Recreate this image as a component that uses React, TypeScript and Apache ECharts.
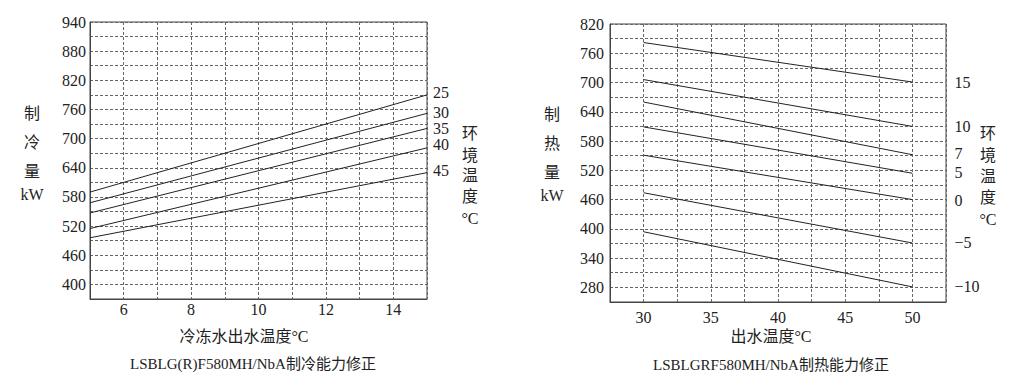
import React, { useEffect, useRef } from "react";
import * as echarts from "echarts";

// Cooling chart (left)
const coolWaterTemp = [5, 15];
const coolAmbientNames = ["25", "30", "35", "40", "45"];
const cool25 = [590, 790];
const cool30 = [568, 752];
const cool35 = [547, 721];
const cool40 = [515, 681];
const cool45 = [496, 630];
const coolLabelDy = [-2, -1, 0, -3, -2];

// Heating chart (right)
const heatWaterTemp = [30, 50];
const heatAmbientNames = ["15", "10", "7", "5", "0", "\u22125", "\u221210"];
const heat15 = [782, 701];
const heat10 = [706, 610];
const heat7 = [660, 552];
const heat5 = [609, 514];
const heat0 = [551, 460];
const heatM5 = [474, 371];
const heatM10 = [394, 281];
const heatLabelDy = [0, 0, -1, -1, 1, 0, 0];

const FONT = '"Liberation Serif", "Noto Sans CJK SC", serif';
const TXT = "#222";

function mkSeries(name: string, xs: number[], ys: number[], idx: number, dist: number, dy: number) {
  return {
    type: "line",
    name,
    xAxisIndex: idx,
    yAxisIndex: idx,
    data: xs.map((x, i) => [x, ys[i]]),
    symbol: "none",
    lineStyle: { color: "#222", width: 1 },
    endLabel: {
      show: true,
      formatter: "{a}",
      distance: dist,
      offset: [0, dy],
      color: TXT,
      fontSize: 16,
      fontFamily: FONT,
    },
    silent: true,
  };
}

function txt(text: string, x: number, y: number, size = 16) {
  return {
    type: "text",
    x,
    y,
    style: { text, fill: TXT, fontSize: size, fontFamily: FONT, align: "center", verticalAlign: "middle" },
  };
}

export default function App() {
  const ref = useRef<HTMLDivElement>(null);
  useEffect(() => {
    if (!ref.current) return;
    const chart = echarts.init(ref.current, undefined, { renderer: "svg" });
    const split = { show: true, lineStyle: { type: [3, 2], color: "#666", width: 1 } };
    const axLine = { show: true, lineStyle: { color: "#444", width: 1 } };
    const coolSets = [cool25, cool30, cool35, cool40, cool45];
    const heatSets = [heat15, heat10, heat7, heat5, heat0, heatM5, heatM10];
    chart.setOption({
      animation: false,
      backgroundColor: "#fff",
      grid: [
        { left: 90, top: 22, width: 337, height: 277, show: true, borderColor: "#444", borderWidth: 1 },
        { left: 610, top: 24, width: 336, height: 278, show: true, borderColor: "#444", borderWidth: 1 },
      ],
      xAxis: [
        {
          type: "value", gridIndex: 0, min: 5, max: 15, interval: 1,
          axisLine: axLine, axisTick: { show: false }, splitLine: split,
          axisLabel: { formatter: (v: number) => (v % 2 === 0 ? String(v) : ""), margin: 2, color: TXT, fontSize: 16, fontFamily: FONT },
        },
        {
          type: "value", gridIndex: 1, min: 27.5, max: 52.5, interval: 2.5,
          axisLine: axLine, axisTick: { show: false }, splitLine: split,
          axisLabel: { formatter: (v: number) => (v % 5 === 0 ? String(v) : ""), margin: 7, color: TXT, fontSize: 16, fontFamily: FONT },
        },
      ],
      yAxis: [
        {
          type: "value", gridIndex: 0, min: 370, max: 940, interval: 30,
          axisLine: axLine, axisTick: { show: false }, splitLine: split,
          axisLabel: { formatter: (v: number) => ((v - 400) % 60 === 0 ? String(v) : ""), margin: 4, color: TXT, fontSize: 16, fontFamily: FONT },
        },
        {
          type: "value", gridIndex: 1, min: 250, max: 820, interval: 30,
          axisLine: axLine, axisTick: { show: false }, splitLine: split,
          axisLabel: { formatter: (v: number) => ((v - 280) % 60 === 0 ? String(v) : ""), margin: 6, color: TXT, fontSize: 16, fontFamily: FONT },
        },
      ],
      series: [
        ...coolAmbientNames.map((n, i) => mkSeries(n, coolWaterTemp, coolSets[i], 0, 6, coolLabelDy[i])),
        ...heatAmbientNames.map((n, i) => mkSeries(n, heatWaterTemp, heatSets[i], 1, 42, heatLabelDy[i])),
      ],
      graphic: [
        txt("制", 32, 113), txt("冷", 32, 142), txt("量", 32, 171), txt("kW", 32, 194),
        txt("环", 470, 133), txt("境", 470, 155), txt("温", 470, 175), txt("度", 470, 196), txt("°C", 470, 218),
        txt("冷冻水出水温度°C", 244, 336),
        txt("LSBLG(R)F580MH/NbA制冷能力修正", 253, 364, 15),
        txt("制", 552, 114), txt("热", 552, 143), txt("量", 552, 172), txt("kW", 552, 195),
        txt("环", 988, 133), txt("境", 988, 155), txt("温", 988, 176), txt("度", 988, 197), txt("°C", 988, 219),
        txt("出水温度°C", 771, 336),
        txt("LSBLGRF580MH/NbA制热能力修正", 771, 365, 15),
      ],
    });
    return () => chart.dispose();
  }, []);
  return <div ref={ref} style={{ position: "fixed", left: 0, top: 0, width: 1029, height: 390 }} />;
}
